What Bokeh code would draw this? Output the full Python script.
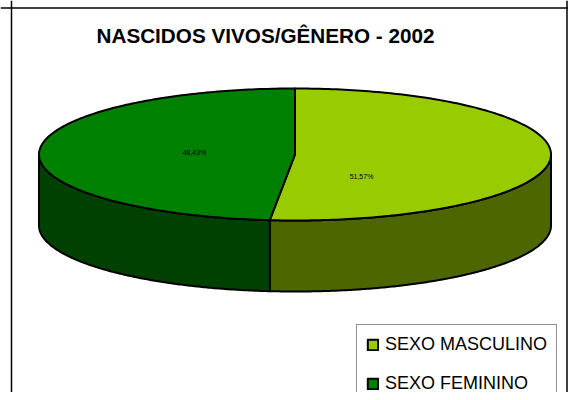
import numpy as np
from bokeh.plotting import figure
from bokeh.models import Range1d, Legend, LegendItem, Span
from bokeh.core.properties import value
from bokeh.embed import file_html
from bokeh.resources import INLINE

title = "NASCIDOS VIVOS/GÊNERO - 2002"
categories = ["SEXO MASCULINO", "SEXO FEMININO"]
shares = [51.57, 48.43]
share_labels = ["51,57%", "48,43%"]
top_colors = ["#99CC00", "#008000"]
side_colors = ["#4D6600", "#004000"]

# drawing coordinates, in pixels from the figure's top-left corner
CX, CY, RX, RY, DEPTH = 294.5, 154, 256, 66, 71
LABEL_AT = [(361, 176), (194, 152)]

W, H = 568, 392
p = figure(width=W, height=H, output_backend="svg", toolbar_location=None,
           x_range=Range1d(0, W), y_range=Range1d(H, 0),
           min_border=0, outline_line_color=None, background_fill_color="white",
           border_fill_color="white")
p.xaxis.visible = False
p.yaxis.visible = False
p.grid.visible = False

for x in (11, 566.5):
    p.add_layout(Span(location=x, dimension="height", line_color="#000000", line_width=1.5))
p.add_layout(Span(location=7.5, dimension="width", line_color="#000000", line_width=1.5))


def rim(a0, a1):
    t = np.radians(np.linspace(a0, a1, 200))
    return CX + RX * np.sin(t), CY - RY * np.cos(t)


bounds = np.cumsum([0] + shares) / sum(shares) * 360
tops = []
for i in range(len(shares)):
    a0, a1 = bounds[i], bounds[i + 1]
    s0, s1 = max(a0, 90), min(a1, 270)
    x, y = rim(s0, s1)
    p.patch(np.r_[x, x[::-1]], np.r_[y, y[::-1] + DEPTH], fill_color=side_colors[i],
            line_color="black", line_width=2, line_join="round")
for i in range(len(shares)):
    a0, a1 = bounds[i], bounds[i + 1]
    x, y = rim(a0, a1)
    r = p.patch(np.r_[CX, x, CX], np.r_[CY, y, CY], fill_color=top_colors[i],
                line_color="black", line_width=2, line_join="round")
    tops.append(r)
    p.text([LABEL_AT[i][0]], [LABEL_AT[i][1]], text=[share_labels[i]], text_align="center",
           text_baseline="middle", text_font=value("Liberation Sans"), text_font_size="7px",
           text_color="black")

p.text([265], [35], text=[title], text_align="center", text_baseline="middle",
       text_font=value("Liberation Sans"), text_font_style="bold", text_font_size="20.7px",
       text_color="black")

legend = Legend(items=[LegendItem(label=value(c), renderers=[r]) for c, r in zip(categories, tops)],
                location=(356, -12), orientation="vertical",
                glyph_width=13, glyph_height=13, label_height=14, spacing=18,
                padding=9, margin=0, label_standoff=6,
                label_text_font="Liberation Sans", label_text_font_size="18px",
                label_text_color="black", border_line_color="#222222", border_line_width=1.5,
                background_fill_color="white", background_fill_alpha=1)
p.add_layout(legend, "center")

open("out.html", "w").write(file_html(p, INLINE))
